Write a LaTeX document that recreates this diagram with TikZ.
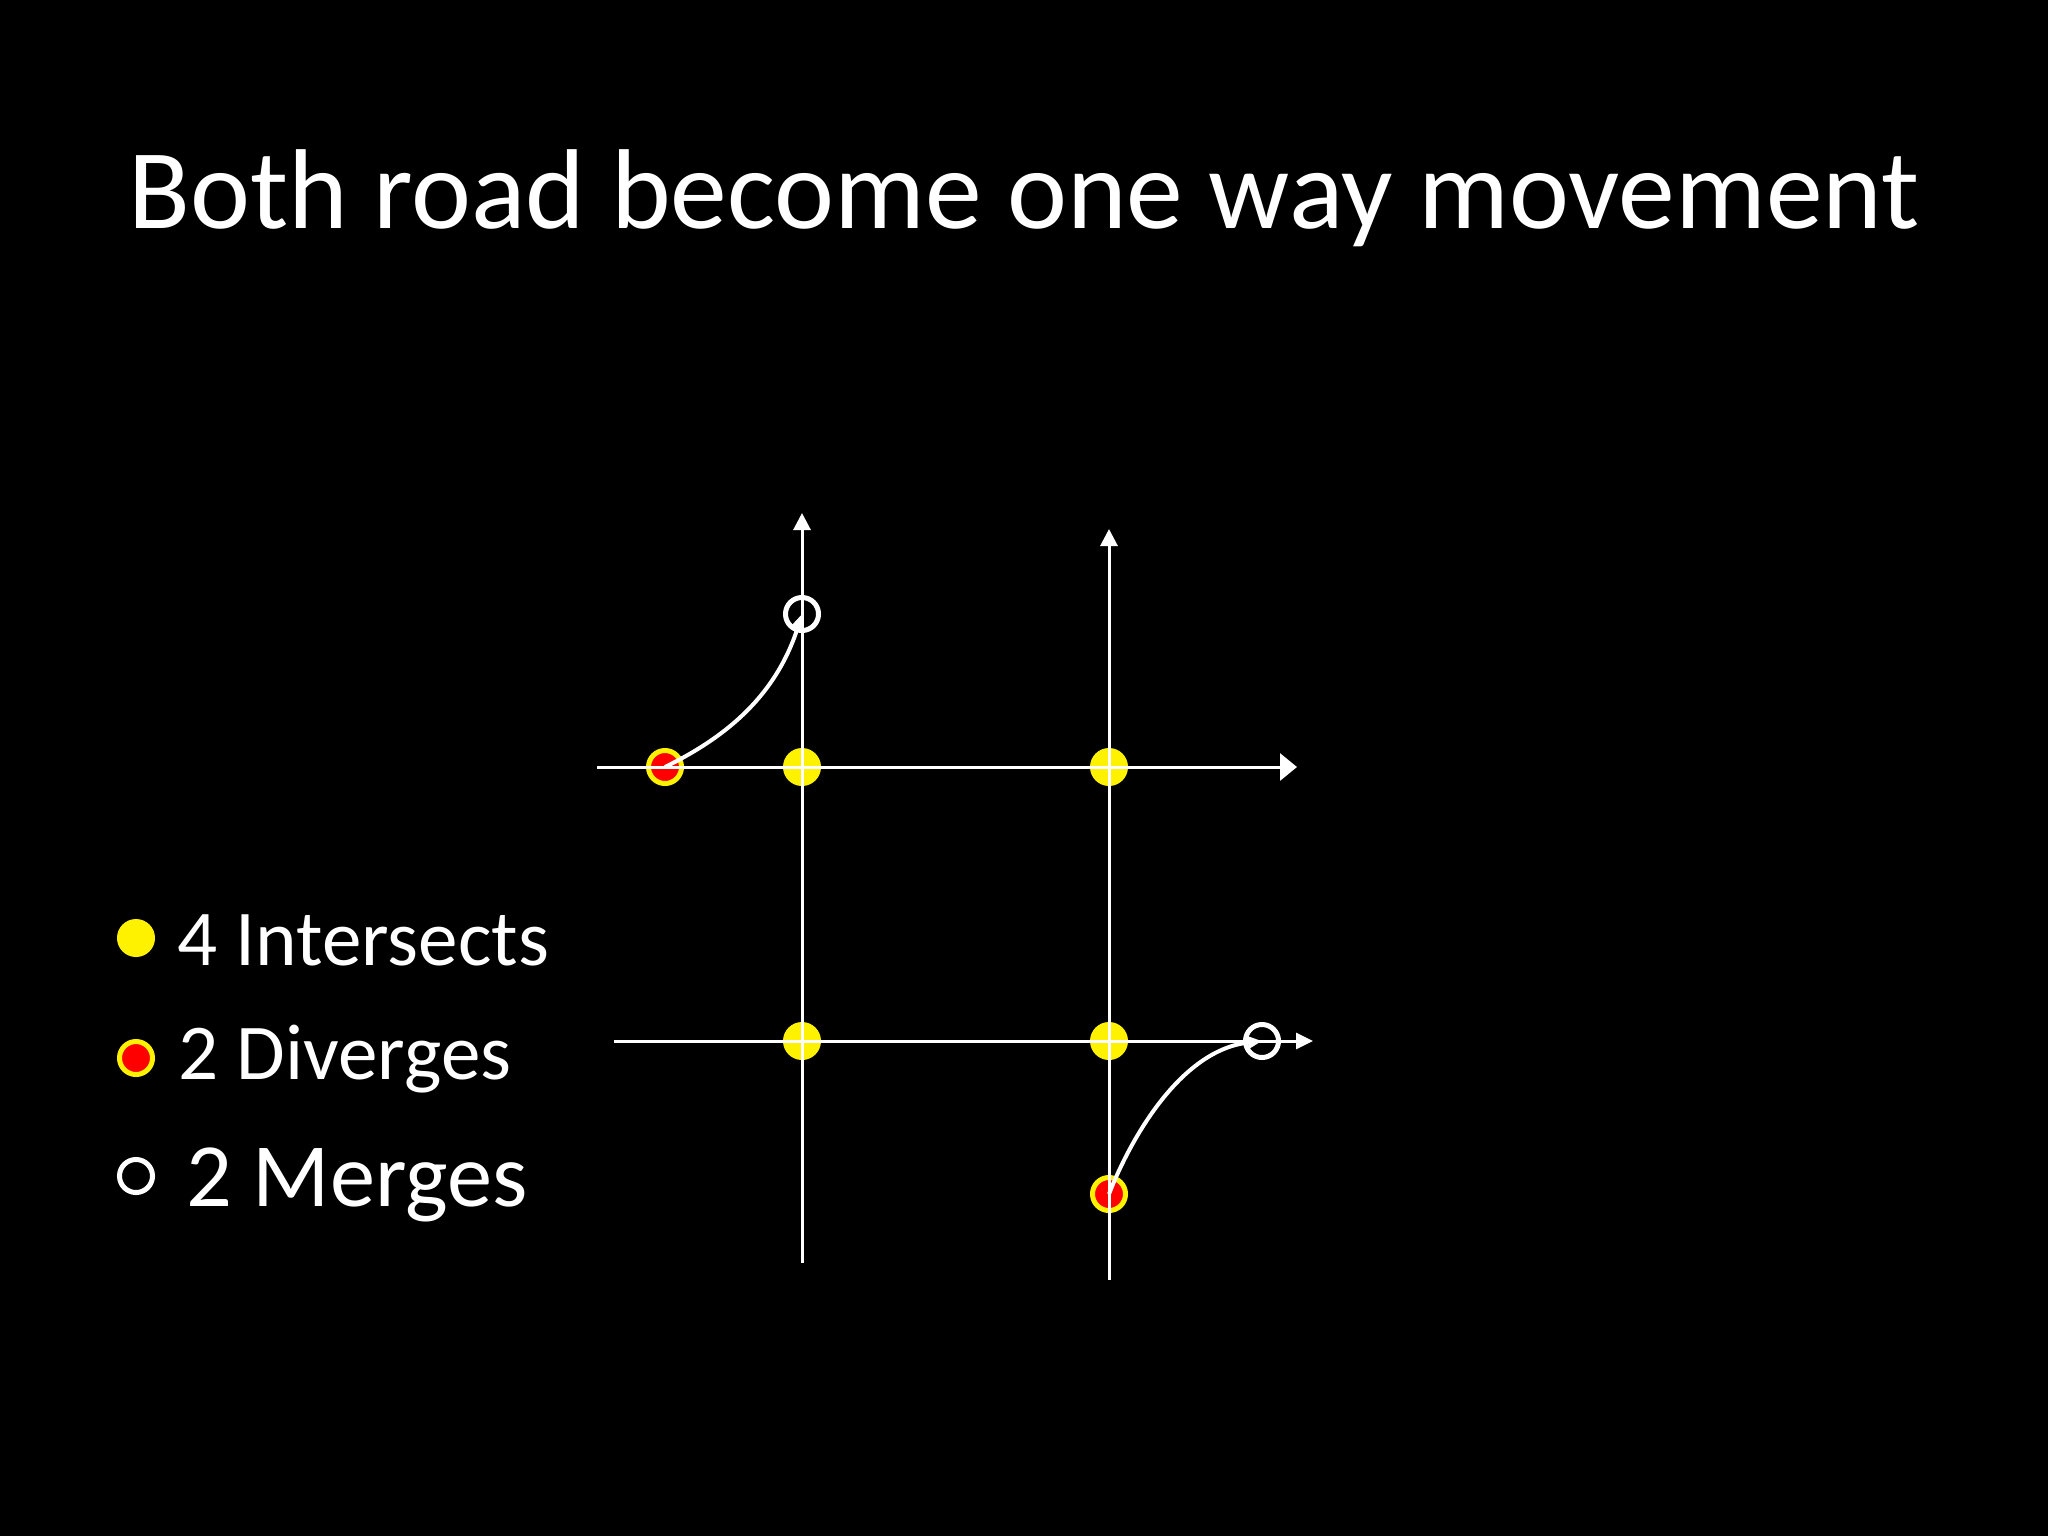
\documentclass[tikz,border=0pt]{standalone}
\usepackage{fontspec}
\setmainfont{Carlito}
\usetikzlibrary{arrows.meta}

\begin{document}
\begin{tikzpicture}[x=0.01cm,y=-0.01cm,
	road/.style={white,line width=0.03cm},
	isect/.style={circle,fill=yellow,inner sep=0pt,minimum size=0.38cm},
	diverge/.style={circle,fill=red,draw=yellow,line width=0.05cm,inner sep=0pt,minimum size=0.33cm},
	merge/.style={circle,draw=white,line width=0.05cm,inner sep=0pt,minimum size=0.33cm},
	turn/.style={white,line width=0.04cm,-{Triangle[length=0.14cm,width=0.12cm]}},
	lbl/.style={anchor=base west,text=white,inner sep=0pt}]
	%\draw[help lines] (0,0) grid[step=100] (2048,1536);
	\fill[black] (0,0) rectangle (2048,1536);
	\node[anchor=base,text=white,inner sep=0pt,font=\fontsize{32.3pt}{40pt}\selectfont] (title) at (1024,228) {Both road become one way movement};

	% conflict points
	\node[isect] (a) at (802,767) {};
	\node[isect] (b) at (1109,767) {};
	\node[isect] (c) at (802,1041) {};
	\node[isect] (d) at (1109,1041) {};
	\node[diverge] (d1) at (665,767) {};
	\node[diverge] (d2) at (1109,1194) {};
	\node[merge] (m1) at (802,614) {};
	\node[merge] (m2) at (1262,1041) {};

	% road ends
	\coordinate (w1) at (597,767);
	\coordinate (e1) at (1297,767);
	\coordinate (w2) at (614,1041);
	\coordinate (e2) at (1313,1041);
	\coordinate (s1) at (802,1263);
	\coordinate (n1) at (802,513);
	\coordinate (s2) at (1109,1280);
	\coordinate (n2) at (1109,529);
	\draw[road,-{Triangle[length=0.17cm,width=0.27cm]}](w1)--(e1);
	\draw[road,-{Triangle[length=0.17cm,width=0.16cm]}](w2)--(e2);
	\draw[road,-{Triangle[length=0.17cm,width=0.17cm]}](s1)--(n1);
	\draw[road,-{Triangle[length=0.17cm,width=0.17cm]}](s2)--(n2);

	% turning movements
	\draw[turn](d1.center) .. controls (720,740) and (775,700) .. (m1.center);
	\draw[turn](d2.center) .. controls (1130,1140) and (1180,1050) .. (m2.center);

	% legend
	\node[isect] (k1) at (136,938) {};
	\node[diverge] (k2) at (136,1058) {};
	\node[merge] (k3) at (136,1176) {};
	\node[lbl,font=\fontsize{22.5pt}{27pt}\selectfont] (t1) at (177,965) {4 Intersects};
	\node[lbl,font=\fontsize{22.5pt}{27pt}\selectfont] (t2) at (178,1079) {2 Diverges};
	\node[lbl,font=\fontsize{25.7pt}{31pt}\selectfont] (t3) at (186,1206) {2 Merges};
\end{tikzpicture}
\end{document}
